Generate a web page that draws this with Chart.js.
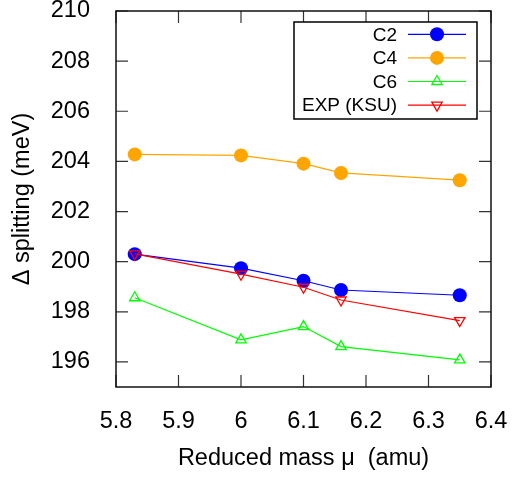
<!DOCTYPE html>
<html>
<head>
<meta charset="utf-8">
<script src="https://cdn.jsdelivr.net/npm/chart.js@4.4.1/dist/chart.umd.min.js"></script>
<style>
  body { margin: 0; background: #fff; }
  #wrap { width: 514px; height: 479px; }
</style>
</head>
<body>
<div id="wrap"><canvas id="chart"></canvas></div>
<script>
// reduced mass (amu)
var xMu = [5.83, 6.0, 6.1, 6.16, 6.35];
// splitting (meV)
var c2 = [200.30, 199.74, 199.24, 198.87, 198.66];
var c4 = [204.28, 204.24, 203.91, 203.54, 203.25];
var c6 = [198.56, 196.88, 197.41, 196.61, 196.08];
var expKsu = [200.31, 199.50, 198.98, 198.47, 197.65];
var xTicks = [5.8, 5.9, 6.0, 6.1, 6.2, 6.3, 6.4];
var yTicks = [196, 198, 200, 202, 204, 206, 208, 210];

function pts(ys) {
    return ys.map(function (y, i) { return { x: xMu[i], y: y }; });
}

var FONT = "'Liberation Sans', Arial, sans-serif";

// frame + inward ticks on all four sides
var framePlugin = {
    id: 'frame',
    beforeDatasetsDraw: function (chart) {
        var ctx = chart.ctx, a = chart.chartArea;
        var xs = chart.scales.x, ys = chart.scales.y;
        var len = 12;
        ctx.save();
        ctx.strokeStyle = '#333';
        ctx.lineWidth = 1.2;
        ctx.beginPath();
        xTicks.forEach(function (v) {
            var px = xs.getPixelForValue(v);
            ctx.moveTo(px, a.bottom); ctx.lineTo(px, a.bottom - len);
            ctx.moveTo(px, a.top); ctx.lineTo(px, a.top + len);
        });
        yTicks.forEach(function (v) {
            var py = ys.getPixelForValue(v);
            ctx.moveTo(a.left, py); ctx.lineTo(a.left + len, py);
            ctx.moveTo(a.right, py); ctx.lineTo(a.right - len, py);
        });
        ctx.stroke();
        ctx.strokeStyle = '#111';
        ctx.lineWidth = 1.5;
        ctx.strokeRect(a.left, a.top, a.right - a.left, a.bottom - a.top);
        ctx.restore();
    }
};

// gnuplot style key: text right aligned, line sample with marker to the right
var keyPlugin = {
    id: 'key',
    afterDraw: function (chart) {
        var ctx = chart.ctx;
        var bx = 294, by = 22, bw = 183, bh = 97;
        var rowH = 23.6, textRight = 397, l0 = 408, l1 = 466;
        ctx.save();
        ctx.fillStyle = '#fff';
        ctx.fillRect(bx, by, bw, bh);
        ctx.strokeStyle = '#000';
        ctx.lineWidth = 1.5;
        ctx.strokeRect(bx, by, bw, bh);
        ctx.font = "19px " + FONT;
        ctx.textAlign = 'right';
        ctx.textBaseline = 'middle';
        chart.data.datasets.forEach(function (ds, i) {
            var y = by + 12.3 + i * rowH;
            ctx.fillStyle = '#000';
            ctx.fillText(ds.label, textRight, y + 1);
            ctx.strokeStyle = ds.borderColor;
            ctx.lineWidth = ds.borderWidth;
            ctx.beginPath();
            ctx.moveTo(l0, y); ctx.lineTo(l1, y);
            ctx.stroke();
            ctx.fillStyle = ds.pointBackgroundColor;
            ctx.strokeStyle = ds.pointBorderColor;
            ctx.lineWidth = ds.pointBorderWidth;
            Chart.helpers.drawPoint(ctx, {
                pointStyle: ds.pointStyle,
                radius: ds.pointRadius,
                rotation: ds.pointRotation || 0,
                borderWidth: ds.pointBorderWidth
            }, (l0 + l1) / 2, y);
        });
        ctx.restore();
    }
};

var ctx = document.getElementById('chart').getContext('2d');
var chart = new Chart(ctx, {
    type: 'line',
    data: {
        datasets: [{
            label: 'C2',
            data: pts(c2),
            borderColor: '#0000ff',
            borderWidth: 1.2,
            pointStyle: 'circle',
            pointRadius: 7,
            pointBackgroundColor: '#0000ff',
            pointBorderColor: '#0000ff',
            pointBorderWidth: 0,
            order: 4
        }, {
            label: 'C4',
            data: pts(c4),
            borderColor: '#ffa500',
            borderWidth: 1.2,
            pointStyle: 'circle',
            pointRadius: 7,
            pointBackgroundColor: '#ffa500',
            pointBorderColor: '#ffa500',
            pointBorderWidth: 0,
            order: 3
        }, {
            label: 'C6',
            data: pts(c6),
            borderColor: '#00ff00',
            borderWidth: 1.2,
            pointStyle: 'triangle',
            pointRadius: 6,
            pointBackgroundColor: 'rgba(0,0,0,0)',
            pointBorderColor: '#00ff00',
            pointBorderWidth: 1.3,
            order: 2
        }, {
            label: 'EXP (KSU)',
            data: pts(expKsu),
            borderColor: '#ff0000',
            borderWidth: 1.2,
            pointStyle: 'triangle',
            pointRotation: 180,
            pointRadius: 6,
            pointBackgroundColor: 'rgba(0,0,0,0)',
            pointBorderColor: '#ff0000',
            pointBorderWidth: 1.3,
            order: 1
        }]
    },
    options: {
        responsive: true,
        maintainAspectRatio: false,
        animation: false,
        layout: { padding: { left: 0, right: 23, top: 11, bottom: 0 } },
        plugins: {
            legend: { display: false },
            tooltip: { enabled: false }
        },
        scales: {
            x: {
                type: 'linear',
                min: 5.8,
                max: 6.4,
                grid: { display: false },
                border: { display: false },
                afterBuildTicks: function (s) { s.ticks = xTicks.map(function (v) { return { value: v }; }); },
                afterFit: function (s) { s.height = 92; s.paddingLeft = 0; s.paddingRight = 0; },
                ticks: {
                    color: '#000',
                    font: { family: FONT, size: 23.5 },
                    padding: 12,
                    maxRotation: 0,
                    callback: function (v) { return String(Number(v.toFixed(1))); }
                },
                title: {
                    display: true,
                    text: 'Reduced mass \u03bc  (amu)',
                    color: '#000',
                    font: { family: FONT, size: 23.5 },
                    padding: { top: 0, bottom: 6 }
                }
            },
            y: {
                min: 195,
                max: 210,
                grid: { display: false },
                border: { display: false },
                afterBuildTicks: function (s) { s.ticks = yTicks.map(function (v) { return { value: v }; }); },
                afterFit: function (s) { s.width = 116; s.paddingTop = 0; s.paddingBottom = 0; },
                ticks: {
                    color: '#000',
                    font: { family: FONT, size: 23.5 },
                    padding: 18
                },
                title: {
                    display: true,
                    text: '\u0394 splitting (meV)',
                    color: '#000',
                    font: { family: FONT, size: 23.5 },
                    padding: { top: 8, bottom: 0 }
                }
            }
        }
    },
    plugins: [framePlugin, keyPlugin]
});
</script>
</body>
</html>
